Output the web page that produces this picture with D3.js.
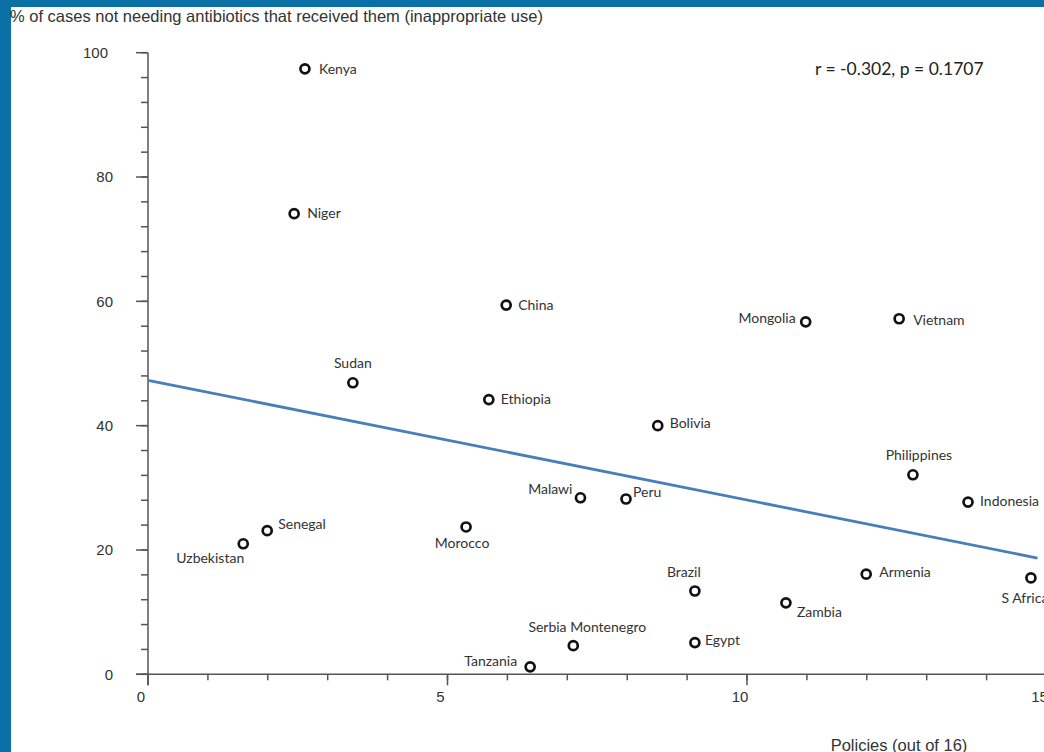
<!DOCTYPE html>
<html>
<head>
<meta charset="utf-8">
<script src="https://cdn.jsdelivr.net/npm/d3@7"></script>
<style>
  html, body { margin: 0; padding: 0; background: #ffffff; }
  svg { display: block; }
</style>
</head>
<body>
<script>
// Countries: number of policies in place vs. share of inappropriate antibiotic use
const countries = ["Kenya", "Niger", "China", "Mongolia", "Vietnam", "Sudan", "Ethiopia", "Bolivia",
  "Philippines", "Indonesia", "Malawi", "Peru", "Senegal", "Uzbekistan", "Morocco", "Armenia",
  "S Africa", "Brazil", "Zambia", "Serbia Montenegro", "Egypt", "Tanzania"];
const policies = [2.62, 2.44, 5.98, 10.98, 12.54, 3.42, 5.69, 8.51,
  12.77, 13.69, 7.22, 7.98, 1.99, 1.59, 5.31, 11.99,
  14.74, 9.13, 10.65, 7.10, 9.13, 6.38];
const inappropriateUse = [97.4, 74.1, 59.4, 56.7, 57.2, 46.9, 44.2, 40.0,
  32.1, 27.7, 28.4, 28.2, 23.1, 21.0, 23.7, 16.1,
  15.5, 13.4, 11.5, 4.6, 5.1, 1.2];

const xTicks = [0, 5, 10, 15];
const yTicks = [0, 20, 40, 60, 80, 100];
const trendX = [0, 14.85];
const trendY = [47.3, 18.7];
const statText = "r = -0.302, p = 0.1707";
const yTitle = "% of cases not needing antibiotics that received them (inappropriate use)";
const xTitle = "Policies (out of 16)";

// label placement around each marker: [dx, dy, anchor]
const labelLayout = {
  "Kenya": [14, 0, "start"], "Niger": [13, -1, "start"], "China": [12, 0, "start"],
  "Mongolia": [-10, -4, "end"], "Vietnam": [14, 1, "start"], "Sudan": [0, -20, "middle"],
  "Ethiopia": [12, 0, "start"], "Bolivia": [12, -3, "start"], "Philippines": [6, -20, "middle"],
  "Indonesia": [12, -1, "start"], "Malawi": [-8, -9, "end"], "Peru": [7, -7, "start"],
  "Senegal": [11, -7, "start"], "Uzbekistan": [-33, 14, "middle"], "Morocco": [-4, 16, "middle"],
  "Armenia": [13, -2, "start"], "S Africa": [-6, 20, "middle"], "Brazil": [-11, -19, "middle"],
  "Zambia": [11, 9, "start"], "Serbia Montenegro": [14, -19, "middle"], "Egypt": [10, -2, "start"],
  "Tanzania": [-13, -6, "end"]
};

const W = 1044, H = 752;
const svg = d3.select("body").append("svg").attr("width", W).attr("height", H);

// blue frame along the top and left edges
svg.append("rect").attr("x", 0).attr("y", 0).attr("width", W).attr("height", H).attr("fill", "#0b70a6");
svg.append("rect").attr("x", 11).attr("y", 7).attr("width", W - 11).attr("height", H - 7).attr("fill", "#ffffff");

const x = d3.scaleLinear().domain([0, 15]).range([148, 148 + 59.9 * 15]);
const y = d3.scaleLinear().domain([0, 100]).range([674.3, 674.3 - 621.6]);

const axisColor = "#555";
const textColor = "#333";
const sans = "Liberation Sans, Arial, sans-serif";

// y axis: major ticks every 20, minor every 4
const gy = svg.append("g");
gy.append("line").attr("x1", x(0)).attr("x2", x(0)).attr("y1", y(100)).attr("y2", y(0) + 11)
  .attr("stroke", axisColor).attr("stroke-width", 1.5);
gy.selectAll("line.minor").data(d3.range(0, 101, 4)).join("line")
  .attr("x1", x(0) - 7).attr("x2", x(0)).attr("y1", d => y(d)).attr("y2", d => y(d))
  .attr("stroke", axisColor).attr("stroke-width", 1.5);
gy.selectAll("line.major").data(yTicks).join("line")
  .attr("x1", x(0) - 12).attr("x2", x(0)).attr("y1", d => y(d)).attr("y2", d => y(d))
  .attr("stroke", axisColor).attr("stroke-width", 1.5);
gy.selectAll("text").data(yTicks).join("text")
  .attr("x", d => d === 100 ? 108 : 113).attr("y", d => y(d)).attr("dy", "0.35em")
  .attr("text-anchor", "end").attr("font-family", sans)
  .attr("font-size", 15).attr("fill", textColor).text(d => d);

// x axis: major ticks every 5, minor every 1
const gx = svg.append("g");
gx.append("line").attr("x1", x(0) - 12).attr("x2", W).attr("y1", y(0)).attr("y2", y(0))
  .attr("stroke", axisColor).attr("stroke-width", 1.5);
gx.selectAll("line.minor").data(d3.range(0, 16)).join("line")
  .attr("x1", d => x(d)).attr("x2", d => x(d)).attr("y1", y(0)).attr("y2", y(0) + 6)
  .attr("stroke", axisColor).attr("stroke-width", 1.5);
gx.selectAll("line.major").data(xTicks).join("line")
  .attr("x1", d => x(d)).attr("x2", d => x(d)).attr("y1", y(0)).attr("y2", y(0) + 11)
  .attr("stroke", axisColor).attr("stroke-width", 1.5);
gx.selectAll("text").data(xTicks).join("text")
  .attr("x", d => x(d) - 7).attr("y", 697).attr("dy", "0.35em")
  .attr("text-anchor", "middle").attr("font-family", sans)
  .attr("font-size", 15).attr("fill", textColor).text(d => d);

// axis titles
svg.append("text").attr("x", 10).attr("y", 22)
  .attr("font-family", sans).attr("font-size", 16.5)
  .attr("fill", textColor).text(yTitle);
svg.append("text").attr("x", 899).attr("y", 751)
  .attr("text-anchor", "middle").attr("font-family", sans)
  .attr("font-size", 16.5).attr("fill", textColor).text(xTitle);

// trend line
svg.append("line")
  .attr("x1", x(trendX[0])).attr("y1", y(trendY[0]))
  .attr("x2", x(trendX[1])).attr("y2", y(trendY[1]))
  .attr("stroke", "#4a7ebb").attr("stroke-width", 2.8);

// correlation statistic
svg.append("text").attr("x", 815).attr("y", 69).attr("dy", "0.35em")
  .attr("font-family", "Lato, sans-serif").attr("font-size", 17.5)
  .attr("fill", "#222").text(statText);

// points
const data = countries.map((c, i) => ({ name: c, px: policies[i], py: inappropriateUse[i] }));

svg.append("g").selectAll("circle").data(data).join("circle")
  .attr("cx", d => x(d.px)).attr("cy", d => y(d.py)).attr("r", 4.5)
  .attr("fill", "#fff").attr("stroke", "#111").attr("stroke-width", 2.7);

svg.append("g").selectAll("text").data(data).join("text")
  .attr("x", d => x(d.px) + labelLayout[d.name][0])
  .attr("y", d => y(d.py) + labelLayout[d.name][1])
  .attr("dy", "0.35em")
  .attr("text-anchor", d => labelLayout[d.name][2])
  .attr("font-family", "Lato, sans-serif").attr("font-size", 14)
  .attr("fill", textColor).text(d => d.name);
</script>
</body>
</html>
